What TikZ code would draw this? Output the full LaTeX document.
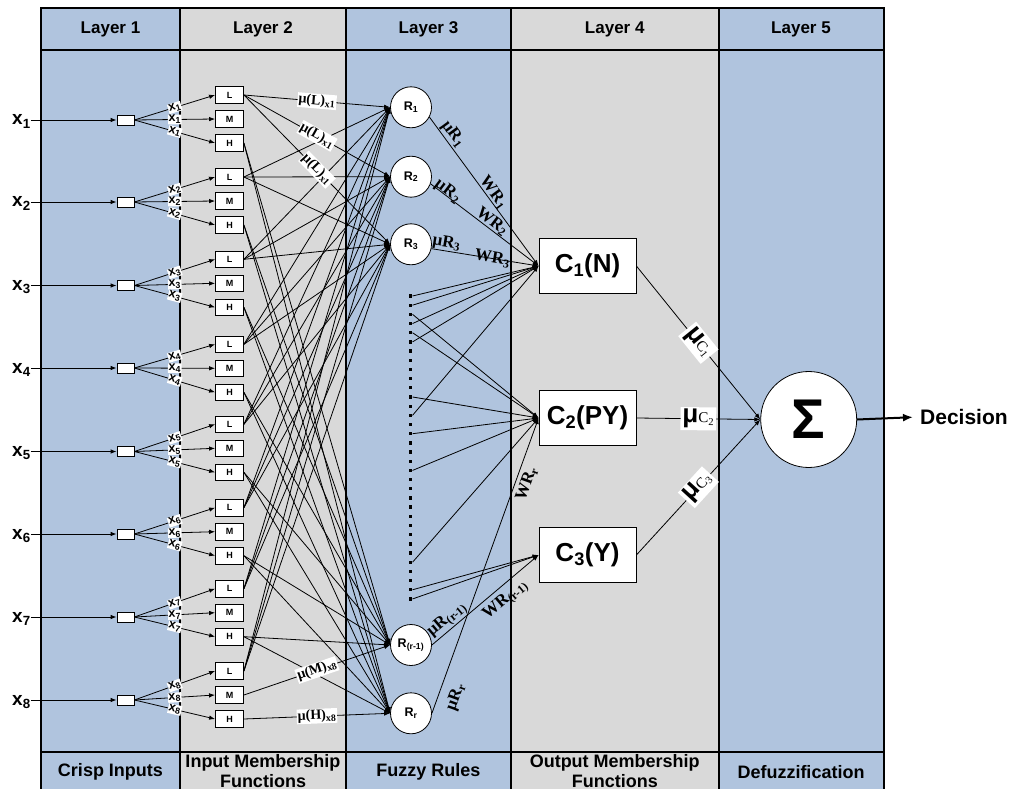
\documentclass[tikz,border=0pt]{standalone}
\usepackage{fontspec}
\setmainfont{Liberation Sans}
\newfontfamily\serif{Liberation Serif}
\usetikzlibrary{arrows.meta}
\definecolor{layerblue}{RGB}{176,196,222}
\definecolor{layergray}{RGB}{217,217,217}
\newcommand{\fsz}[1]{\fontsize{#1}{#1}\selectfont}
\begin{document}
\begin{tikzpicture}[x=1pt,y=-1pt,
  arr/.style={line width=0.8pt,-{Latex[length=6pt,width=4.5pt]}},
  sepline/.style={line width=2pt},
  head/.style={font=\bfseries\fsz{17}},
  foot/.style={font=\bfseries\fontsize{18}{20}\selectfont, align=center},
  inlab/.style={font=\bfseries\fsz{19}, inner sep=0pt},
  crisp/.style={draw, fill=white, minimum width=17pt, minimum height=10pt, inner sep=0pt, line width=0.8pt},
  mf/.style={draw, fill=white, minimum width=28pt, minimum height=16.5pt, inner sep=0pt, font=\bfseries\fsz{9}, line width=0.8pt},
  rulenode/.style={circle, draw, fill=white, minimum size=41pt, inner sep=0pt, font=\bfseries\fsz{12.5}, line width=0.8pt},
  outbox/.style={draw, fill=white, minimum width=97pt, minimum height=55pt, inner sep=0pt, font=\bfseries\fsz{26}, line width=0.8pt},
  dotsq/.style={fill=black, minimum size=3.3pt, inner sep=0pt},
  fanlab/.style={font=\bfseries\fsz{12.5}, fill=white, inner sep=0.6pt, sloped},
  mulab/.style={font=\serif\bfseries\fsz{14}, fill=white, inner sep=1pt, sloped},
  wlab/.style={font=\serif\bfseries\fsz{17}, inner sep=1pt, sloped},
  clab/.style={fill=white, inner sep=2pt, sloped},
]
\useasboundingbox (0,0) rectangle (1021,789);

% layer columns
\fill[layerblue] (41,8) rectangle (180,800);
\fill[layergray] (180,8) rectangle (346,800);
\fill[layerblue] (346,8) rectangle (511,800);
\fill[layergray] (511,8) rectangle (718.5,800);
\fill[layerblue] (718.5,8) rectangle (884,800);
\draw[sepline] (41,800) -- (41,8) -- (884,8) -- (884,800);
\foreach \c in {180,346,511,718.5} \draw[sepline] (\c,8) -- (\c,800);
\draw[sepline] (41,50) -- (884,50) (41,752) -- (884,752);

% headers and footers
\node[head] (h1) at (110.5,29) {Layer 1};
\node[head] (h2) at (263,29) {Layer 2};
\node[head] (h3) at (428.5,29) {Layer 3};
\node[head] (h4) at (614.75,29) {Layer 4};
\node[head] (h5) at (801,29) {Layer 5};
\node[foot] (f1) at (110.5,772) {Crisp Inputs};
\node[foot] (f2) at (263,771.5) {Input Membership\\Functions};
\node[foot] (f3) at (428.5,772) {Fuzzy Rules};
\node[foot] (f4) at (614.75,771.5) {Output Membership\\Functions};
\node[foot] (f5) at (801,772) {Defuzzification};

% layer 3: rule nodes and the dotted column
\node[rulenode] (R1) at (411,107.3) {R\textsubscript{1}};
\node[rulenode] (R2) at (411,176.7) {R\textsubscript{2}};
\node[rulenode] (R3) at (411,244.3) {R\textsubscript{3}};
\node[rulenode] (Rq) at (411,645) {R\textsubscript{(r-1)}};
\node[rulenode] (Rr) at (411,713.3) {R\textsubscript{r}};
\foreach \k in {0,...,33} \node[dotsq] (d\k) at (410.7,296+9.18*\k) {};

% layer 4: output membership functions, layer 5: summation
\node[outbox] (C1) at (587.5,266) {C\textsubscript{1}(N)};
\node[outbox] (C2) at (587.5,418) {C\textsubscript{2}(PY)};
\node[outbox] (C3) at (587.5,555) {C\textsubscript{3}(Y)};
\node[circle, draw, fill=white, minimum size=96pt, inner sep=0pt, line width=0.8pt, font=\bfseries\fsz{56}] (S) at (808.7,419.5) {Σ};
\node[font=\bfseries\fsz{21}, anchor=west, inner sep=2pt] (dec) at (918,417) {Decision};

% layers 1 and 2: crisp inputs and membership functions
\foreach \i/\y/\m in {1/120/119, 2/202/201, 3/285.5/283.3, 4/368/368.3, 5/451.5/448.3, 6/534/531.7, 7/617/612.7, 8/700/695} {
  \node[inlab, anchor=base west] (xl\i) at (12,\y+5) {x\textsubscript{\i}};
  \node[crisp] (cb\i) at (125.5,\y) {};
  \node[mf] (L\i) at (229.5,\m-24) {L};
  \node[mf] (M\i) at (229.5,\m) {M};
  \node[mf] (H\i) at (229.5,\m+24) {H};
  \draw[arr] (xl\i.east |- cb\i.west) -- (cb\i.west);
  \draw[arr] (cb\i.east) -- node[fanlab] {x\textsubscript{\i}} (M\i.west);
  \draw[arr] (cb\i.east) -- node[fanlab] {x\textsubscript{\i}} (L\i.west);
  \draw[arr] (cb\i.east) -- node[fanlab] {x\textsubscript{\i}} (H\i.west);
}

% layer 2 -> layer 3
\foreach \i in {2,...,8} {
  \draw[arr] (L\i.east) -- (R1.west);
  \draw[arr] (L\i.east) -- (R2.west);
  \draw[arr] (L\i.east) -- (R3.west);
}
\foreach \i in {1,...,7} {
  \draw[arr] (H\i.east) -- (Rq.west);
  \draw[arr] (H\i.east) -- (Rr.west);
}
\draw[arr] (L1.east) -- node[mulab] {μ(L)\textsubscript{x1}} (R1.west);
\draw[arr] (L1.east) -- node[mulab] {μ(L)\textsubscript{x1}} (R2.west);
\draw[arr] (L1.east) -- node[mulab] {μ(L)\textsubscript{x1}} (R3.west);
\draw[arr] (M8.east) -- node[mulab] {μ(M)\textsubscript{x8}} (Rq.west);
\draw[arr] (H8.east) -- node[mulab] {μ(H)\textsubscript{x8}} (Rr.west);

% layer 3 -> layer 4
\draw[arr] (R1.-28) -- node[wlab, pos=0.15, above=0pt] {μR\textsubscript{1}}
  node[wlab, pos=0.535, above=-1.5pt] {WR\textsubscript{1}} (C1.west);
\draw[arr] (R2.-20) -- node[wlab, pos=0.135, above=-4.5pt] {μR\textsubscript{2}}
  node[wlab, pos=0.53, above=-1pt] {WR\textsubscript{2}} (C1.west);
\draw[arr] (R3.-12) -- node[wlab, pos=0.13, above=-1pt] {μR\textsubscript{3}}
  node[wlab, pos=0.57] {WR\textsubscript{3}} (C1.west);
\foreach \k in {0,1,3,5,13} \draw[arr] (d\k.east) -- (C1.west);
\foreach \k in {2,4,11,15,19,29} \draw[arr] (d\k.east) -- (C2.west);
\foreach \k in {32,33} \draw[arr] (d\k.east) -- (C3.west);
\draw[arr] (Rq.east) -- node[wlab, pos=0.2, above=0pt] {μR\textsubscript{(r-1)}}
  node[wlab, pos=0.61, below=4pt] {WR\textsubscript{(r-1)}} (C3.west);
\draw[arr] (Rr.east) -- node[wlab, pos=0.075, below=8pt] {μR\textsubscript{r}}
  node[wlab, pos=0.79, below=3pt] {WR\textsubscript{r}} (C2.west);

% layer 4 -> layer 5
\draw[arr] (C1.east) -- node[clab] {{\bfseries\fsz{26}μ}{\serif\fsz{15}C\textsubscript{1}}} (S.west);
\draw[arr] (C2.east) -- node[clab] {{\bfseries\fsz{26}μ}{\serif\fsz{15}C\textsubscript{2}}} (S.west);
\draw[arr] (C3.east) -- node[clab] {{\bfseries\fsz{26}μ}{\serif\fsz{15}C\textsubscript{3}}} (S.west);
\draw[line width=2pt, -{Latex[length=10pt,width=8pt]}, shorten >=5pt] (S.east) -- (dec.west);
\end{tikzpicture}
\end{document}
